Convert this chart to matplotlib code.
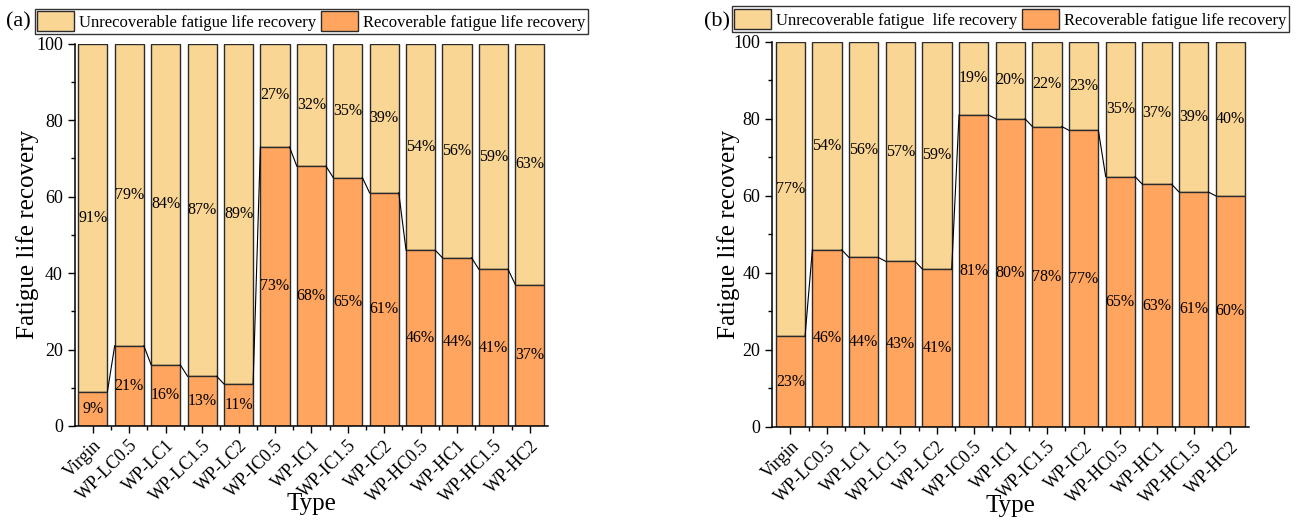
import numpy as np
import matplotlib
matplotlib.use("Agg")
import matplotlib.pyplot as plt
from matplotlib.ticker import MultipleLocator, FixedLocator

# --- Data ---
types = ["Virgin", "WP-LC0.5", "WP-LC1", "WP-LC1.5", "WP-LC2",
         "WP-IC0.5", "WP-IC1", "WP-IC1.5", "WP-IC2",
         "WP-HC0.5", "WP-HC1", "WP-HC1.5", "WP-HC2"]

rec_a = [9, 21, 16, 13, 11, 73, 68, 65, 61, 46, 44, 41, 37]
unrec_a = [91, 79, 84, 87, 89, 27, 32, 35, 39, 54, 56, 59, 63]

rec_b = [23.5, 46, 44, 43, 41, 81, 80, 78, 77, 65, 63, 61, 60]
unrec_b = [76.5, 54, 56, 57, 59, 19, 20, 22, 23, 35, 37, 39, 40]
rec_b_lbl = [23, 46, 44, 43, 41, 81, 80, 78, 77, 65, 63, 61, 60]
unrec_b_lbl = [77, 54, 56, 57, 59, 19, 20, 22, 23, 35, 37, 39, 40]

legend_a = ["Unrecoverable fatigue life recovery", "Recoverable fatigue life recovery"]
legend_b = ["Unrecoverable fatigue  life recovery", "Recoverable fatigue life recovery"]

# --- Style ---
C_UNREC = "#FAD695"
C_REC = "#FFA55F"
EDGE = "#2b2b2b"
BAR_W = 0.8

plt.rcParams["font.family"] = ["Liberation Serif", "DejaVu Serif"]


def draw_panel(ax, rec, unrec, rec_lbl, unrec_lbl, legend_labels, ylab_x):
    x = np.arange(len(types))
    rec = np.asarray(rec, dtype=float)
    unrec = np.asarray(unrec, dtype=float)

    b_un = ax.bar(x, unrec, BAR_W, bottom=rec, color=C_UNREC,
                  edgecolor=EDGE, linewidth=1.0, zorder=2)
    b_re = ax.bar(x, rec, BAR_W, color=C_REC,
                  edgecolor=EDGE, linewidth=1.0, zorder=2)

    # connector lines between the tops of the recoverable parts
    for i in range(len(x) - 1):
        ax.plot([x[i] + BAR_W / 2, x[i + 1] - BAR_W / 2], [rec[i], rec[i + 1]],
                color="black", linewidth=0.8, zorder=3)

    # percentage labels
    for i in range(len(x)):
        ax.text(x[i], rec[i] / 2, f"{rec_lbl[i]}%", ha="center", va="center",
                fontsize=11.5, zorder=4)
        ax.text(x[i], rec[i] + unrec[i] / 2, f"{unrec_lbl[i]}%", ha="center",
                va="center", fontsize=11.5, zorder=4)

    ax.set_xlim(-0.5, len(x) - 0.5)
    ax.set_ylim(0, 100)
    ax.yaxis.set_major_locator(MultipleLocator(20))
    ax.yaxis.set_minor_locator(MultipleLocator(10))
    ax.set_xticks(x)
    ax.set_xticklabels(types, rotation=45, ha="right", rotation_mode="anchor",
                       fontsize=13)
    ax.xaxis.set_minor_locator(FixedLocator(np.arange(len(x) - 1) + 0.5))
    ax.tick_params(axis="both", which="major", direction="out", length=5,
                   width=1, labelsize=13)
    ax.tick_params(axis="both", which="minor", direction="out", length=3, width=1)
    ax.tick_params(axis="x", which="major", pad=3)
    for s in ("top", "right"):
        ax.spines[s].set_visible(False)
    for s in ("left", "bottom"):
        ax.spines[s].set_linewidth(1.1)

    ax.set_xlabel("Type", fontsize=18)
    ax.xaxis.set_label_coords(0.5, -0.205)
    ax.xaxis.label.set_va("center")
    ax.set_ylabel("Fatigue life recovery", fontsize=18)
    ax.yaxis.set_label_coords(ylab_x, 0.5)
    ax.yaxis.label.set_va("center")

    leg = ax.legend([b_un, b_re], legend_labels, loc="lower center",
                    bbox_to_anchor=(0.5, 1.0), ncol=2, frameon=True,
                    fancybox=False, edgecolor="black", fontsize=12,
                    handlelength=2.2, handleheight=1.5, handletextpad=0.3,
                    columnspacing=0.3, borderpad=0.15, borderaxespad=0.6)
    leg.get_frame().set_linewidth(1.0)


fig = plt.figure(figsize=(12.96, 5.22), dpi=100)
ax_a = fig.add_axes([0.0576, 0.184, 0.3653, 0.732])
ax_b = fig.add_axes([0.5957, 0.182, 0.3678, 0.738])

draw_panel(ax_a, rec_a, unrec_a, rec_a, unrec_a, legend_a, -0.10)
draw_panel(ax_b, rec_b, unrec_b, rec_b_lbl, unrec_b_lbl, legend_b, -0.092)

fig.text(0.005, 0.958, "(a)", fontsize=16, va="center", ha="left")
fig.text(0.543, 0.958, "(b)", fontsize=16, va="center", ha="left")

fig.savefig("out.png", dpi=100)
